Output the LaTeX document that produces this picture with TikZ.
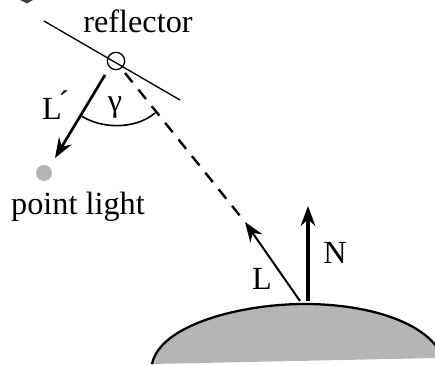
\documentclass[tikz,border=0pt]{standalone}
\usepackage{fontspec}
\setmainfont{Liberation Serif}
\usepackage{tikz}
\usetikzlibrary{arrows.meta}
\definecolor{surfgray}{gray}{0.71}

\begin{document}
\begin{tikzpicture}[
    x=0.75pt, y=-0.75pt,
    font=\fontsize{24.2}{27}\selectfont,
    label/.style={inner sep=0pt},
    thinline/.style={line width=1pt},
    pointer/.style={-{Stealth[length=15pt,width=11pt,inset=5pt]}},
]
\useasboundingbox (0,0) rectangle (435,364);

\fill[black!75] (20,0) -- (33,0) -- (27,3.5) -- cycle;

\fill[surfgray] (152,364) .. controls (160,325) and (240,304) .. (305,304)
    .. controls (360,304) and (415,318) .. (437,347) -- (437,358) -- cycle;
\draw[line width=1.7pt] (152,364) .. controls (160,325) and (240,304) .. (305,304)
    .. controls (360,304) and (415,318) .. (437,347);

\coordinate (reflA) at (44,21);
\coordinate (reflB) at (180,100);
\coordinate (dashA) at (125,73);
\coordinate (lightTip) at (245,222);
\coordinate (lightEnd) at (300,301);
\coordinate (normalEnd) at (308,301);
\coordinate (normalTip) at (308,206);
\coordinate (backEnd) at (105,75);
\coordinate (backTip) at (55,158);
\coordinate (arcA) at (80,115);
\coordinate (arcB) at (155,113);

\draw[thinline] (reflA) -- (reflB);
\node[draw, circle, thinline, minimum size=13pt, inner sep=0pt] (hit) at (116,61) {};
\draw[line width=1.8pt, dash pattern=on 9pt off 7pt] (dashA) -- (lightTip);
\draw[pointer, line width=1.5pt] (lightEnd) -- (lightTip);
\draw[pointer, line width=2.4pt] (normalEnd) -- (normalTip);
\draw[pointer, line width=2pt] (backEnd) -- (backTip);
\draw[line width=1.2pt] (arcA) .. controls (100,129) and (135,130) .. (arcB);
\node[circle, fill=surfgray, minimum size=12pt, inner sep=0pt] (light) at (44,173) {};

\node[label] (reflector) at (138,21) {reflector};
\node[label] (pointlight) at (78,207) {point light};
\node[label] (backlabel) at (55,105) {L\kern-1.5pt\'{}};
\node[label] (gamma) at (115,108) {γ};
\node[label] (llabel) at (262,279) {L};
\node[label] (nlabel) at (335,253) {N};
\end{tikzpicture}
\end{document}
